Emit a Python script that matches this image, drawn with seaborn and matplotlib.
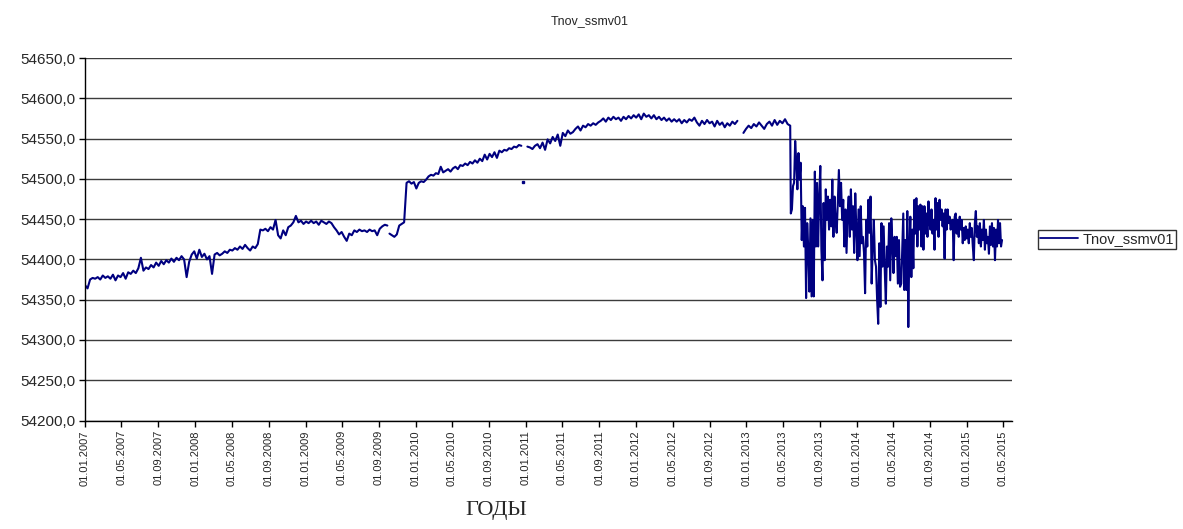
import pandas as pd
import seaborn as sns
import matplotlib.pyplot as plt
import matplotlib.dates as mdates
from matplotlib.lines import Line2D
from matplotlib.ticker import FuncFormatter, MultipleLocator

# 1. DATA (one list per unbroken run of the line)
# -------------------------------------------------------------------
run_2007_2009 = [
    54368, 54364, 54375, 54377, 54376, 54378, 54375, 54380, 54377, 54379,
    54376, 54381, 54374, 54380, 54378, 54383, 54376, 54384, 54382, 54386,
    54383, 54389, 54402, 54386, 54390, 54388, 54393, 54390, 54396, 54392,
    54398, 54394, 54399, 54396, 54401, 54397, 54402, 54399, 54404, 54400,
    54378, 54397, 54406, 54410, 54401, 54412, 54403, 54407, 54400, 54404,
    54382, 54406, 54408, 54405, 54407, 54410, 54408, 54412, 54411, 54414,
    54412, 54416, 54413, 54418, 54414, 54411, 54416, 54414, 54419, 54437,
    54436, 54438, 54435, 54440, 54437, 54449, 54430, 54426, 54436, 54430,
    54440, 54442, 54446, 54454, 54446, 54448, 54444, 54447, 54445, 54448,
    54445, 54447, 54443, 54448, 54446, 54444, 54447, 54445, 54440, 54436,
    54431, 54434, 54428, 54423, 54432, 54430, 54436, 54434, 54437, 54435,
    54436, 54434, 54437, 54435, 54436, 54430, 54438, 54441, 54443, 54442,
]
run_2009_2010 = [
    54432, 54430, 54428, 54431, 54442, 54444, 54446, 54495,
    54497, 54494, 54496, 54488, 54495, 54497, 54496, 54499,
    54503, 54505, 54504, 54507, 54506, 54515, 54508, 54510, 54512, 54509,
    54513, 54515, 54512, 54517, 54516, 54519, 54517, 54521, 54519, 54523,
    54520, 54525, 54522, 54530, 54524, 54531, 54527, 54533, 54526, 54535,
    54533, 54536, 54535, 54538, 54537, 54540, 54539, 54542, 54541,
]
lone_date = "2010-12-24"
lone_value = 54496
run_2011_2012 = [
    54540, 54539, 54537, 54541, 54543, 54538, 54545, 54536, 54549,
    54544, 54552, 54547, 54555, 54541, 54557, 54553, 54560, 54556, 54558,
    54562, 54565, 54560, 54566, 54564, 54568, 54566, 54569, 54567, 54570,
    54572, 54575, 54571, 54576, 54573, 54577, 54574, 54576, 54572, 54577,
    54574, 54578, 54575, 54579, 54576, 54580, 54574, 54581, 54577, 54579,
    54575, 54579, 54574, 54577, 54573, 54576, 54572, 54575, 54571, 54574,
    54571, 54574, 54569, 54573, 54570, 54574, 54572, 54576, 54570, 54566,
    54572, 54568, 54573, 54569, 54571, 54565, 54572, 54567, 54570, 54564,
    54569, 54566, 54571, 54568, 54572,
]
run_2013_calm = [
    54557, 54562, 54566, 54563, 54568, 54565, 54570, 54566, 54562, 54568,
    54571, 54566, 54573, 54567, 54572, 54569, 54574, 54568, 54566,
]
run_2013_2014 = [
    54457, 54462, 54491, 54495, 54547, 54520, 54487, 54532, 54499, 54520,
    54424, 54466, 54416, 54464, 54352, 54445, 54412, 54360, 54451, 54354,
    54449, 54354, 54509, 54416, 54495, 54416, 54478, 54516, 54412, 54374,
    54470, 54399, 54487, 54449, 54478, 54437, 54474, 54441, 54499, 54428,
    54478, 54449, 54433, 54470, 54511, 54466, 54495, 54449, 54474, 54416,
    54462, 54408, 54457, 54478, 54428, 54487, 54437, 54466, 54408, 54482,
    54437, 54399, 54462, 54404, 54466, 54420, 54428, 54408, 54358, 54449,
    54416, 54474, 54433, 54478, 54370, 54416, 54449, 54399, 54391, 54350,
    54320, 54420, 54341, 54445, 54391, 54441, 54387, 54345, 54416, 54391,
    54445, 54374, 54451, 54420, 54383, 54428, 54404, 54428, 54370, 54424,
    54366,
]
run_2014_2015 = [
    54370, 54416, 54457, 54362, 54424, 54362, 54460, 54316, 54416,
    54453, 54378, 54437, 54389, 54474, 54432, 54476, 54416, 54466, 54437,
    54468, 54416, 54466, 54412, 54466, 54432, 54457, 54428, 54472, 54445,
    54437, 54462, 54432, 54449, 54412, 54476, 54437, 54470, 54428, 54474,
    54449, 54462, 54441, 54457, 54401, 54462, 54437, 54462, 54445, 54453,
    54437, 54445, 54449, 54399, 54453, 54457, 54432, 54449, 54428, 54453,
    54437, 54449, 54420, 54439, 54424, 54441, 54426, 54437, 54420, 54445,
    54428, 54439, 54416, 54399, 54445, 54460, 54428, 54441, 54420, 54445,
    54416, 54437, 54424, 54449, 54412, 54437, 54420, 54428, 54407, 54441,
    54418, 54445, 54416, 54439, 54399, 54437, 54416, 54449, 54420, 54445,
    54416, 54424,
]

# (start, end, values, run id) - run id changes where the line breaks
runs = [
    ("2007-01-01", "2009-09-29", run_2007_2009, 1),
    ("2009-10-06", "2010-12-17", run_2009_2010, 2),
    ("2011-01-06", "2012-12-02", run_2011_2012, 3),
    ("2012-12-22", "2013-05-26", run_2013_calm, 4),
    ("2013-05-28", "2014-05-25", run_2013_2014, 4),
    ("2014-05-29", "2015-04-28", run_2014_2015, 4),
]

frames = []
for start, end, vals, rid in runs:
    frames.append(pd.DataFrame({
        "date": pd.date_range(start, end, periods=len(vals)),
        "value": vals,
        "run": rid,
    }))
df = pd.concat(frames, ignore_index=True)

# 2. PLOT
# -------
sns.set_theme(style="white")
plt.rcParams['font.family'] = ['Liberation Sans', 'DejaVu Sans']

line_color = "#000080"

fig = plt.figure(figsize=(11.83, 5.29), dpi=100)
ax = fig.add_axes([85 / 1183, 1 - 420.5 / 529, (1012 - 85) / 1183, (420.5 - 58) / 529])

sns.lineplot(data=df, x="date", y="value", units="run", estimator=None,
             color=line_color, lw=1.5, ax=ax)
ax.plot(pd.to_datetime([lone_date]), [lone_value], marker="s", ms=2,
        color=line_color, ls="none")

ax.set_ylim(54200, 54650)
ax.set_xlim(pd.Timestamp("2007-01-01"), pd.Timestamp("2015-05-31"))
ax.yaxis.set_major_locator(MultipleLocator(50))
ax.yaxis.set_major_formatter(FuncFormatter(lambda v, p: f"{v:.1f}".replace(".", ",")))
ax.xaxis.set_major_locator(mdates.MonthLocator(bymonth=[1, 5, 9], bymonthday=1))
ax.xaxis.set_major_formatter(mdates.DateFormatter("%d.%m.%Y"))

ax.yaxis.grid(True, color="#3c3c3c", lw=1)
ax.set_axisbelow(True)
for s in ["top", "right"]:
    ax.spines[s].set_visible(False)
for s in ["left", "bottom"]:
    ax.spines[s].set_color("black")
    ax.spines[s].set_linewidth(1)

ax.tick_params(axis="y", which="major", left=True, length=4, width=1,
               color="black", labelsize=11, pad=3)
ax.tick_params(axis="x", which="major", bottom=True, length=4, width=1,
               color="black", labelsize=8, pad=3, labelrotation=90)
ax.set_xlabel("")
ax.set_ylabel("")

fig.text(590 / 1183, 1 - 21 / 529, "Tnov_ssmv01", ha="center", va="center", fontsize=9)
fig.text(496 / 1183, 1 - 511 / 529, "ГОДЫ", ha="center", va="center",
         fontsize=16, family=["Liberation Serif", "DejaVu Serif"])

handle = Line2D([], [], color=line_color, lw=1.3, label="Tnov_ssmv01")
leg = ax.legend(handles=[handle], loc="center left",
                bbox_to_anchor=(1038 / 1183, 1 - 239.5 / 529),
                bbox_transform=fig.transFigure, borderaxespad=0,
                fontsize=10.5, frameon=True, fancybox=False, handlelength=2.6,
                handletextpad=0.3, borderpad=0.15)
leg.get_frame().set_edgecolor("black")
leg.get_frame().set_linewidth(1)

plt.savefig("out.png", dpi=100)
